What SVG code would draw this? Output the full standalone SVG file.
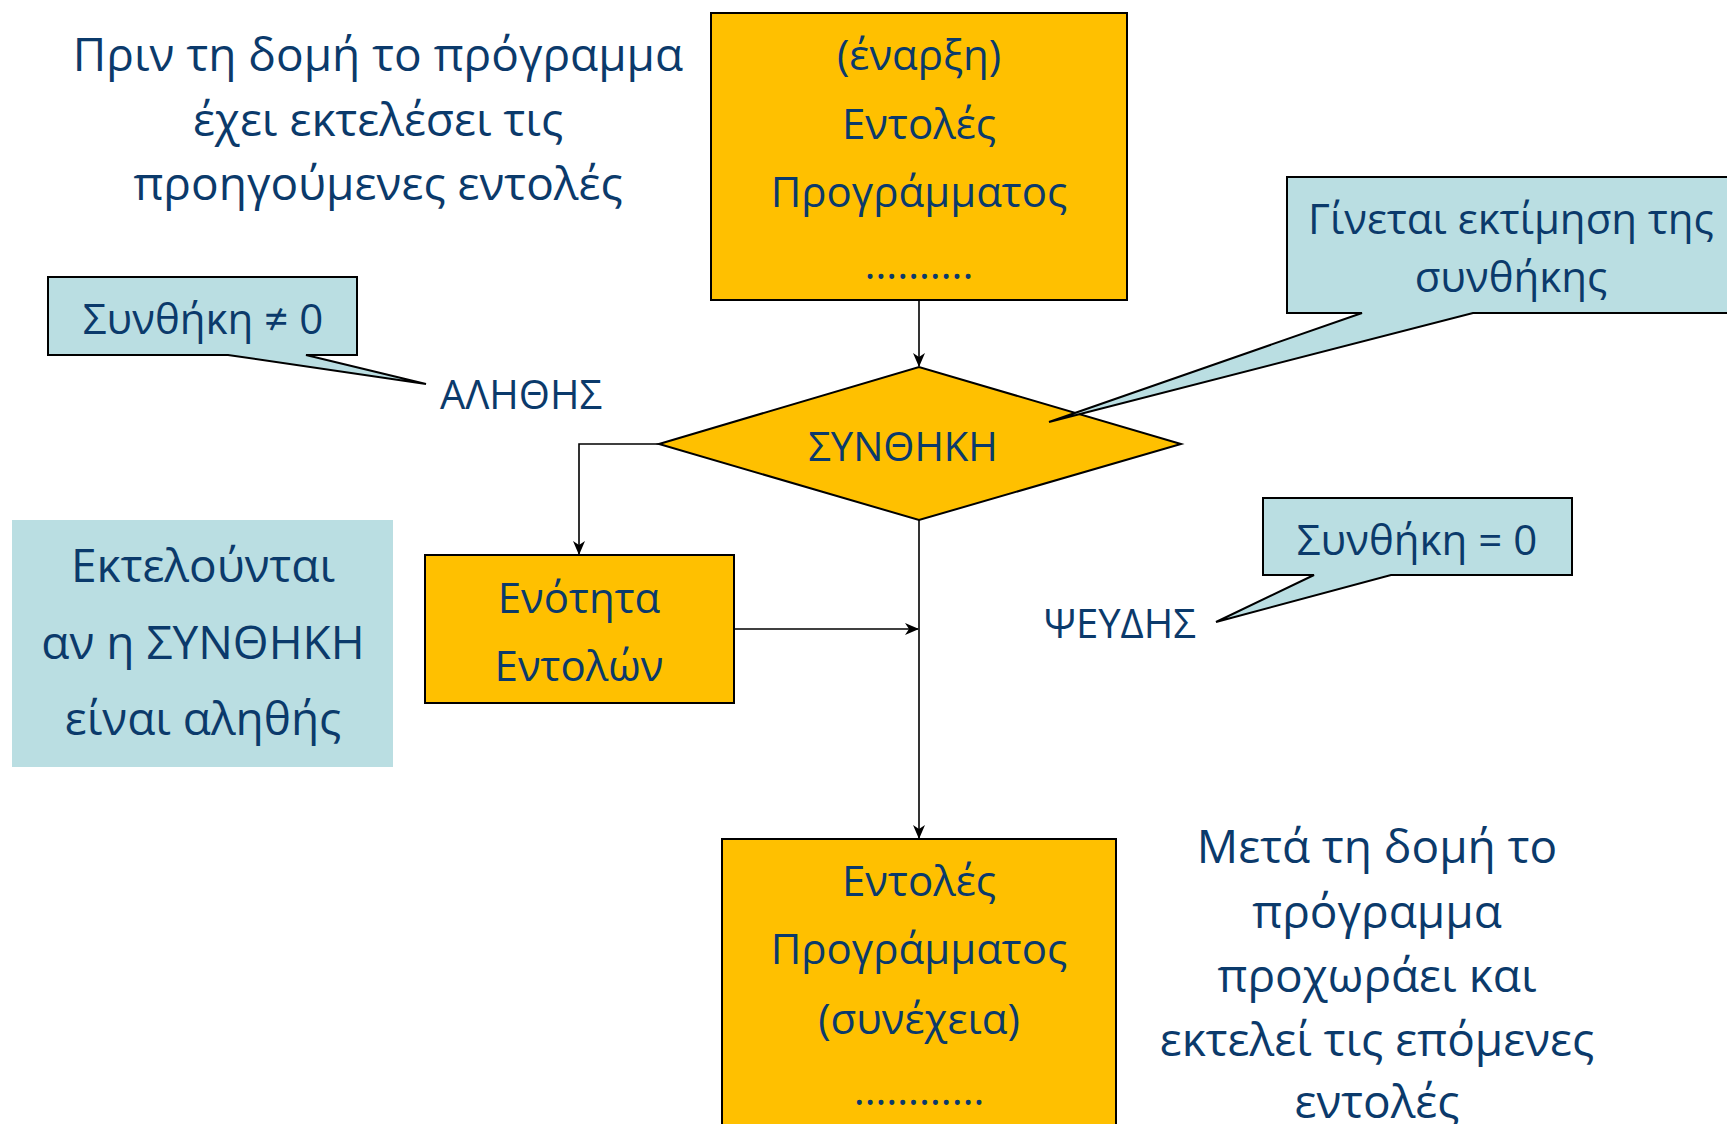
<svg xmlns="http://www.w3.org/2000/svg" width="1727" height="1124" viewBox="0 0 1727 1124">
<defs>
<style>
text{font-family:"Open Sans","Noto Sans","DejaVu Sans",sans-serif;fill:#0b3a6b;text-anchor:middle;dominant-baseline:central}
.box{fill:#ffc000;stroke:#000;stroke-width:2}
.call{fill:#badee2;stroke:#000;stroke-width:2;stroke-linejoin:miter}
.line{fill:none;stroke:#000;stroke-width:1.6}
.t40{font-size:40px}
.t42{font-size:42px}
.t46{font-size:46px}
</style>
<marker id="arr" viewBox="0 0 14 12" refX="13" refY="6" markerWidth="14" markerHeight="12" markerUnits="userSpaceOnUse" orient="auto">
<path d="M0,0 L14,6 L0,12 L4,6 Z" fill="#000"/>
</marker>
</defs>
<rect width="1727" height="1124" fill="#fff"/>

<g id="note-before">
<text class="t46" x="378" y="53">Πριν τη δομή το πρόγραμμα</text>
<text class="t46" x="378" y="118">έχει εκτελέσει τις</text>
<text class="t46" x="378" y="182">προηγούμενες εντολές</text>
</g>

<g id="start">
<rect class="box" x="711" y="13" width="416" height="287"/>
<text class="t42" x="919" y="53">(έναρξη)</text>
<text class="t42" x="919" y="122">Εντολές</text>
<text class="t42" x="919" y="190">Προγράμματος</text>
<text class="t42" x="919" y="262">……….</text>
</g>

<g id="condition">
<polygon class="box" points="659,444 919,367 1181,444 919,520"/>
<text class="t40" x="903" y="445">ΣΥΝΘΗΚΗ</text>
</g>

<g id="block">
<rect class="box" x="425" y="555" width="309" height="148"/>
<text class="t42" x="579" y="596">Ενότητα</text>
<text class="t42" x="579" y="664">Εντολών</text>
</g>

<g id="next">
<rect class="box" x="722" y="839" width="394" height="300"/>
<text class="t42" x="919" y="879">Εντολές</text>
<text class="t42" x="919" y="947">Προγράμματος</text>
<text class="t42" x="919" y="1017">(συνέχεια)</text>
<text class="t42" x="919" y="1088">…………</text>
</g>

<g id="connectors">
<line class="line" x1="919" y1="300" x2="919" y2="366" marker-end="url(#arr)"/>
<polyline class="line" points="659,444 579,444 579,554" marker-end="url(#arr)"/>
<line class="line" x1="919" y1="520" x2="919" y2="838" marker-end="url(#arr)"/>
<line class="line" x1="734" y1="629" x2="918" y2="629" marker-end="url(#arr)"/>
</g>

<g id="callout-true">
<polygon class="call" points="48,277 357,277 357,355 306,355 426,384 228,355 48,355"/>
<text class="t42" x="203" y="317">Συνθήκη ≠ 0</text>
</g>
<g id="label-true">
<text class="t40" x="521" y="393">ΑΛΗΘΗΣ</text>
</g>

<g id="callout-eval">
<polygon class="call" points="1287,177 1740,177 1740,313 1473,313 1049,422 1362,313 1287,313"/>
<text class="t42" x="1511" y="217">Γίνεται εκτίμηση της</text>
<text class="t42" x="1511" y="275">συνθήκης</text>
</g>

<g id="callout-false">
<polygon class="call" points="1263,498 1572,498 1572,575 1391,575 1216,622 1314,575 1263,575"/>
<text class="t42" x="1417" y="538">Συνθήκη = 0</text>
</g>
<g id="label-false">
<text class="t40" x="1120" y="622">ΨΕΥΔΗΣ</text>
</g>

<g id="note-true">
<rect x="12" y="520" width="381" height="247" fill="#badee2"/>
<text class="t46" x="203" y="564">Εκτελούνται</text>
<text class="t46" x="203" y="641">αν η ΣΥΝΘΗΚΗ</text>
<text class="t46" x="203" y="717">είναι αληθής</text>
</g>

<g id="note-after">
<text class="t46" x="1377" y="845">Μετά τη δομή το</text>
<text class="t46" x="1377" y="910">πρόγραμμα</text>
<text class="t46" x="1377" y="974">προχωράει και</text>
<text class="t46" x="1377" y="1038">εκτελεί τις επόμενες</text>
<text class="t46" x="1377" y="1100">εντολές</text>
</g>
</svg>
